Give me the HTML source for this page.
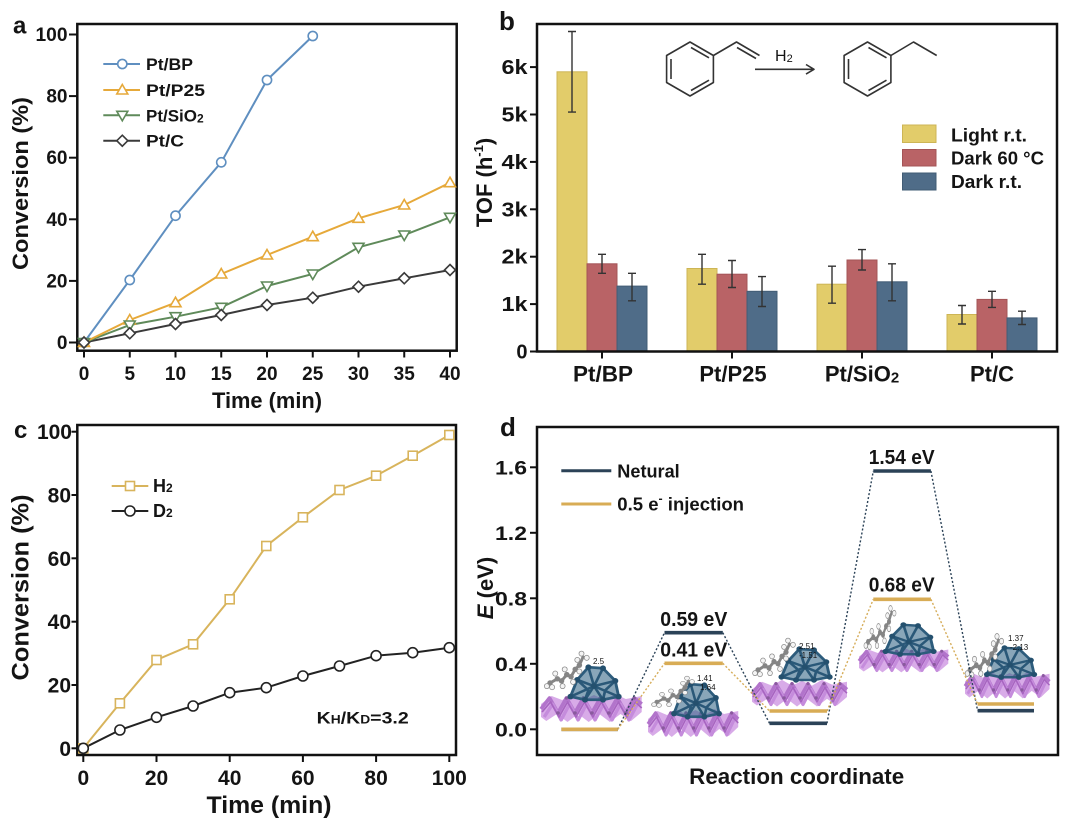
<!DOCTYPE html>
<html><head><meta charset="utf-8">
<style>
body{margin:0;background:#fff}
svg{display:block}
text{font-family:"Liberation Sans",Arial,sans-serif;font-weight:bold;fill:#141414}
</style></head>
<body>
<svg width="1080" height="823" viewBox="0 0 1080 823" xmlns="http://www.w3.org/2000/svg">
<rect width="1080" height="823" fill="#fff"/>
<defs>
  <g id="slab">
    <polygon points="0,12 10,4 20,8 30,2 40,8 50,3 60,8 70,2 80,7 95,4 95,20 85,29 75,22 65,30 55,22 45,30 35,22 25,30 15,22 5,29 0,25" fill="#d4a2e6" fill-opacity="0.9"/>
    <polyline points="0,17 8,6 16,21 24,6 32,21 40,6 48,21 56,6 64,21 72,6 80,21 88,6 95,12" fill="none" stroke="#b274cb" stroke-width="3.6" stroke-linejoin="round"/>
    <polyline points="3,25 11,12 19,28 27,12 35,28 43,12 51,28 59,12 67,28 75,12 83,28 91,12" fill="none" stroke="#c58cdc" stroke-width="3.2" stroke-linejoin="round"/>
    <polyline points="1,20 9,10 17,25 25,10 33,25 41,10 49,25 57,10 65,25 73,10 81,25 89,10 95,16" fill="none" stroke="#a765c0" stroke-width="1.6" stroke-linejoin="round"/>
    <g fill="#8a5a9e"><circle cx="16" cy="21" r="1.8"/><circle cx="32" cy="21" r="1.8"/><circle cx="48" cy="21" r="1.8"/><circle cx="64" cy="21" r="1.8"/><circle cx="80" cy="21" r="1.8"/><circle cx="24" cy="6" r="1.6"/><circle cx="56" cy="6" r="1.6"/><circle cx="88" cy="6" r="1.6"/><circle cx="40" cy="6" r="1.6"/><circle cx="72" cy="6" r="1.6"/></g>
  </g>
  <g id="cl">
    <polygon points="-21,12 -15,-4 -5,-16 8,-15 19,-3 22,12 8,15 -8,15" fill="#3a6a8a" fill-opacity="0.6" stroke="#2d5c7c" stroke-width="2.6" stroke-linejoin="round"/>
    <g stroke="#2a5878" stroke-width="2.4" fill="none">
      <polyline points="-15,-4 0,2 8,-15"/>
      <polyline points="-5,-16 0,2 19,-3"/>
      <polyline points="-21,12 0,2 22,12"/>
      <polyline points="-8,15 0,2 8,15"/>
      <polyline points="-15,-4 -5,6 -8,15"/>
      <polyline points="19,-3 10,6 8,15"/>
    </g>
    <g fill="#24506e"><circle cx="-21" cy="12" r="2.7"/><circle cx="-15" cy="-4" r="2.7"/><circle cx="-5" cy="-16" r="2.7"/><circle cx="8" cy="-15" r="2.7"/><circle cx="19" cy="-3" r="2.7"/><circle cx="22" cy="12" r="2.7"/><circle cx="0" cy="2" r="2.7"/><circle cx="-8" cy="15" r="2.7"/><circle cx="8" cy="15" r="2.7"/></g>
  </g>
  <g id="mol">
    <polyline points="0,0 7,-4 11,-2 16,-8 20,-6 24,-13 28,-17 32,-26" fill="none" stroke="#858585" stroke-width="2.8"/>
    <g fill="#858585"><circle cx="0" cy="0" r="2.6"/><circle cx="7" cy="-4" r="2.6"/><circle cx="11" cy="-2" r="2.6"/><circle cx="16" cy="-8" r="2.6"/><circle cx="20" cy="-6" r="2.6"/><circle cx="24" cy="-13" r="2.6"/><circle cx="28" cy="-17" r="2.6"/></g>
    <g fill="#f4f4f4" stroke="#8a8a8a" stroke-width="0.7"><circle cx="-3" cy="3" r="2.4"/><circle cx="2" cy="4" r="2.4"/><circle cx="5" cy="-9" r="2.4"/><circle cx="12" cy="3" r="2.4"/><circle cx="14" cy="-13" r="2.4"/><circle cx="22" cy="-1" r="2.4"/><circle cx="28" cy="-11" r="2.4"/><circle cx="30" cy="-28" r="2.4"/><circle cx="35" cy="-24" r="2.4"/><circle cx="26" cy="-22" r="2.4"/></g>
  </g>
</defs>

<!-- ================= PANEL A ================= -->
<text x="13" y="33.5" font-size="24">a</text>
<rect x="77.3" y="24" width="379.4" height="326.7" fill="none" stroke="#111" stroke-width="2.5"/>
<g stroke="#111" stroke-width="2">
  <line x1="69" y1="342.5" x2="77.3" y2="342.5"/><line x1="69" y1="280.9" x2="77.3" y2="280.9"/>
  <line x1="69" y1="219.3" x2="77.3" y2="219.3"/><line x1="69" y1="157.7" x2="77.3" y2="157.7"/>
  <line x1="69" y1="96.1" x2="77.3" y2="96.1"/><line x1="69" y1="34.5" x2="77.3" y2="34.5"/>
  <line x1="84" y1="350.7" x2="84" y2="357.5"/><line x1="129.75" y1="350.7" x2="129.75" y2="357.5"/>
  <line x1="175.5" y1="350.7" x2="175.5" y2="357.5"/><line x1="221.25" y1="350.7" x2="221.25" y2="357.5"/>
  <line x1="267" y1="350.7" x2="267" y2="357.5"/><line x1="312.75" y1="350.7" x2="312.75" y2="357.5"/>
  <line x1="358.5" y1="350.7" x2="358.5" y2="357.5"/><line x1="404.25" y1="350.7" x2="404.25" y2="357.5"/>
  <line x1="450" y1="350.7" x2="450" y2="357.5"/>
</g>
<g font-size="19" text-anchor="end">
  <text x="67.5" y="349">0</text><text x="67.5" y="287.4">20</text><text x="67.5" y="225.8">40</text>
  <text x="67.5" y="164.2">60</text><text x="67.5" y="102.6">80</text><text x="67.5" y="41" textLength="32" lengthAdjust="spacingAndGlyphs">100</text>
</g>
<g font-size="19" text-anchor="middle">
  <text x="84" y="380">0</text><text x="129.75" y="380">5</text><text x="175.5" y="380">10</text>
  <text x="221.25" y="380">15</text><text x="267" y="380">20</text><text x="312.75" y="380">25</text>
  <text x="358.5" y="380">30</text><text x="404.25" y="380">35</text><text x="450" y="380">40</text>
</g>
<text x="267" y="408" font-size="22" text-anchor="middle" textLength="110" lengthAdjust="spacingAndGlyphs">Time (min)</text>
<text transform="translate(28,183.5) rotate(-90)" font-size="22" text-anchor="middle" textLength="173" lengthAdjust="spacingAndGlyphs">Conversion (%)</text>

<g fill="none" stroke-width="2">
  <polyline stroke="#3a3a3a" points="84,342.5 129.75,333.3 175.5,324 221.25,315 267,305 312.75,297.7 358.5,286.7 404.25,278.3 450,270"/>
  <polyline stroke="#5f8a5a" points="84,342.5 129.75,325 175.5,316.7 221.25,307.3 267,286 312.75,274 358.5,247.3 404.25,235 450,217.3"/>
  <polyline stroke="#e6a93a" points="84,342.5 129.75,320 175.5,302.7 221.25,274 267,255 312.75,236.7 358.5,218.3 404.25,205 450,182.7"/>
  <polyline stroke="#5f8fc0" points="84,342.5 129.75,280 175.5,215.7 221.25,162.3 267,80 312.75,36"/>
</g>
<g fill="#fff" stroke="#5f8fc0" stroke-width="1.6">
  <circle cx="84" cy="342.5" r="4.6"/><circle cx="129.75" cy="280" r="4.6"/><circle cx="175.5" cy="215.7" r="4.6"/>
  <circle cx="221.25" cy="162.3" r="4.6"/><circle cx="267" cy="80" r="4.6"/><circle cx="312.75" cy="36" r="4.6"/>
</g>
<g fill="#fff" stroke="#e6a93a" stroke-width="1.6">
  <polygon points="84,337 89.5,346.5 78.5,346.5"/><polygon points="129.75,314.5 135.25,324 124.25,324"/>
  <polygon points="175.5,297.2 181,306.7 170,306.7"/><polygon points="221.25,268.5 226.75,278 215.75,278"/>
  <polygon points="267,249.5 272.5,259 261.5,259"/><polygon points="312.75,231.2 318.25,240.7 307.25,240.7"/>
  <polygon points="358.5,212.8 364,222.3 353,222.3"/><polygon points="404.25,199.5 409.75,209 398.75,209"/>
  <polygon points="450,177.2 455.5,186.7 444.5,186.7"/>
</g>
<g fill="#fff" stroke="#5f8a5a" stroke-width="1.6">
  <polygon points="78.5,338.5 89.5,338.5 84,348"/><polygon points="124.25,321 135.25,321 129.75,330.5"/>
  <polygon points="170,312.7 181,312.7 175.5,322.2"/><polygon points="215.75,303.3 226.75,303.3 221.25,312.8"/>
  <polygon points="261.5,282 272.5,282 267,291.5"/><polygon points="307.25,270 318.25,270 312.75,279.5"/>
  <polygon points="353,243.3 364,243.3 358.5,252.8"/><polygon points="398.75,231 409.75,231 404.25,240.5"/>
  <polygon points="444.5,213.3 455.5,213.3 450,222.8"/>
</g>
<g fill="#fff" stroke="#3a3a3a" stroke-width="1.6">
  <polygon points="84,337 89.5,342.5 84,348 78.5,342.5"/><polygon points="129.75,327.8 135.25,333.3 129.75,338.8 124.25,333.3"/>
  <polygon points="175.5,318.5 181,324 175.5,329.5 170,324"/><polygon points="221.25,309.5 226.75,315 221.25,320.5 215.75,315"/>
  <polygon points="267,299.5 272.5,305 267,310.5 261.5,305"/><polygon points="312.75,292.2 318.25,297.7 312.75,303.2 307.25,297.7"/>
  <polygon points="358.5,281.2 364,286.7 358.5,292.2 353,286.7"/><polygon points="404.25,272.8 409.75,278.3 404.25,283.8 398.75,278.3"/>
  <polygon points="450,264.5 455.5,270 450,275.5 444.5,270"/>
</g>
<!-- legend a -->
<g stroke-width="2">
  <line x1="103.3" y1="64" x2="140" y2="64" stroke="#5f8fc0"/>
  <line x1="103.3" y1="90" x2="140" y2="90" stroke="#e6a93a"/>
  <line x1="103.3" y1="115.3" x2="140" y2="115.3" stroke="#5f8a5a"/>
  <line x1="103.3" y1="140.7" x2="140" y2="140.7" stroke="#3a3a3a"/>
</g>
<circle cx="122.3" cy="64" r="4.6" fill="#fff" stroke="#5f8fc0" stroke-width="1.6"/>
<polygon points="122.3,84.5 127.8,94 116.8,94" fill="#fff" stroke="#e6a93a" stroke-width="1.6"/>
<polygon points="116.8,111.3 127.8,111.3 122.3,120.8" fill="#fff" stroke="#5f8a5a" stroke-width="1.6"/>
<polygon points="122.3,135.2 127.8,140.7 122.3,146.2 116.8,140.7" fill="#fff" stroke="#3a3a3a" stroke-width="1.6"/>
<g font-size="17">
  <text x="146" y="70" textLength="47" lengthAdjust="spacingAndGlyphs">Pt/BP</text>
  <text x="146" y="96" textLength="59" lengthAdjust="spacingAndGlyphs">Pt/P25</text>
  <text x="146" y="121.3">Pt/SiO<tspan font-size="12" dy="1">2</tspan></text>
  <text x="146" y="146.7" textLength="38" lengthAdjust="spacingAndGlyphs">Pt/C</text>
</g>

<!-- ================= PANEL B ================= -->
<text x="499" y="30" font-size="26">b</text>
<g stroke-width="1">
  <rect x="557" y="71.8" width="30" height="279.7" fill="#e2cc6a" stroke="#cdb555"/>
  <rect x="587" y="263.8" width="30" height="87.7" fill="#b96366" stroke="#a45457"/>
  <rect x="617" y="286.1" width="30" height="65.4" fill="#4f6c88" stroke="#425c75"/>
  <rect x="687" y="268.5" width="30" height="83" fill="#e2cc6a" stroke="#cdb555"/>
  <rect x="717" y="274.2" width="30" height="77.3" fill="#b96366" stroke="#a45457"/>
  <rect x="747" y="291.3" width="30" height="60.2" fill="#4f6c88" stroke="#425c75"/>
  <rect x="817" y="284.2" width="30" height="67.3" fill="#e2cc6a" stroke="#cdb555"/>
  <rect x="847" y="260" width="30" height="91.5" fill="#b96366" stroke="#a45457"/>
  <rect x="877" y="281.8" width="30" height="69.7" fill="#4f6c88" stroke="#425c75"/>
  <rect x="947" y="314.5" width="30" height="37" fill="#e2cc6a" stroke="#cdb555"/>
  <rect x="977" y="299.4" width="30" height="52.1" fill="#b96366" stroke="#a45457"/>
  <rect x="1007" y="317.9" width="30" height="33.6" fill="#4f6c88" stroke="#425c75"/>
</g>
<g stroke="#333" stroke-width="1.4" fill="none">
  <path d="M572,31.5V112.1M568,31.5H576M568,112.1H576"/>
  <path d="M602,254.3V273.3M598,254.3H606M598,273.3H606"/>
  <path d="M632,273.3V300.8M628,273.3H636M628,300.8H636"/>
  <path d="M702,254.3V284.2M698,254.3H706M698,284.2H706"/>
  <path d="M732,260.5V287.5M728,260.5H736M728,287.5H736"/>
  <path d="M762,276.6V306.5M758,276.6H766M758,306.5H766"/>
  <path d="M832,266.2V303.2M828,266.2H836M828,303.2H836"/>
  <path d="M862,249.6V270M858,249.6H866M858,270H866"/>
  <path d="M892,263.8V300.8M888,263.8H896M888,300.8H896"/>
  <path d="M962,305.5V324M958,305.5H966M958,324H966"/>
  <path d="M992,291.3V307.4M988,291.3H996M988,307.4H996"/>
  <path d="M1022,311.2V324.5M1018,311.2H1026M1018,324.5H1026"/>
</g>
<rect x="537" y="24" width="520" height="327.5" fill="none" stroke="#111" stroke-width="2.5"/>
<g stroke="#111" stroke-width="2">
  <line x1="530" y1="351.5" x2="537" y2="351.5"/><line x1="530" y1="304.1" x2="537" y2="304.1"/>
  <line x1="530" y1="256.7" x2="537" y2="256.7"/><line x1="530" y1="209.3" x2="537" y2="209.3"/>
  <line x1="530" y1="161.9" x2="537" y2="161.9"/><line x1="530" y1="114.5" x2="537" y2="114.5"/>
  <line x1="530" y1="67.1" x2="537" y2="67.1"/>
  <line x1="602" y1="351.5" x2="602" y2="358.5"/><line x1="732" y1="351.5" x2="732" y2="358.5"/>
  <line x1="862" y1="351.5" x2="862" y2="358.5"/><line x1="992" y1="351.5" x2="992" y2="358.5"/>
</g>
<g font-size="20" text-anchor="end">
  <text x="527.5" y="358.5">0</text>
  <text x="527.5" y="311.1" textLength="26" lengthAdjust="spacingAndGlyphs">1k</text>
  <text x="527.5" y="263.7" textLength="26" lengthAdjust="spacingAndGlyphs">2k</text>
  <text x="527.5" y="216.3" textLength="26" lengthAdjust="spacingAndGlyphs">3k</text>
  <text x="527.5" y="168.9" textLength="26" lengthAdjust="spacingAndGlyphs">4k</text>
  <text x="527.5" y="121.5" textLength="26" lengthAdjust="spacingAndGlyphs">5k</text>
  <text x="527.5" y="74.1" textLength="26" lengthAdjust="spacingAndGlyphs">6k</text>
</g>
<g font-size="22" text-anchor="middle">
  <text x="603" y="381.7" textLength="60" lengthAdjust="spacingAndGlyphs">Pt/BP</text>
  <text x="733" y="381.7">Pt/P25</text>
  <text x="862" y="381.7">Pt/SiO<tspan font-size="15" dy="1">2</tspan></text>
  <text x="992" y="381.7">Pt/C</text>
</g>
<text transform="translate(492,182.5) rotate(-90)" font-size="22" text-anchor="middle">TOF (h<tspan font-size="13" dy="-9">-1</tspan><tspan dy="9">)</tspan></text>
<rect x="902.5" y="125" width="33.5" height="17.5" fill="#e2cc6a" stroke="#cdb555"/>
<rect x="902.5" y="149.5" width="33.5" height="16.5" fill="#b96366" stroke="#a45457"/>
<rect x="902.5" y="173" width="33.5" height="17" fill="#4f6c88" stroke="#425c75"/>
<g font-size="18">
  <text x="951" y="141.5" textLength="76" lengthAdjust="spacingAndGlyphs">Light r.t.</text>
  <text x="951" y="164.5" textLength="93" lengthAdjust="spacingAndGlyphs">Dark 60 °C</text>
  <text x="951" y="188" textLength="71" lengthAdjust="spacingAndGlyphs">Dark r.t.</text>
</g>
<g stroke="#333" stroke-width="1.6" fill="none" stroke-linejoin="round">
  <polygon points="690,42 713.4,55.5 713.4,82.5 690,96 666.6,82.5 666.6,55.5"/>
  <line x1="691" y1="47.5" x2="709" y2="57.8"/>
  <line x1="709" y1="80.2" x2="691" y2="90.5"/>
  <line x1="671" y1="59" x2="671" y2="79"/>
  <polyline points="713.4,55.5 736.5,42 759.5,55.5"/>
  <line x1="737" y1="47.5" x2="756" y2="58.5"/>
  <line x1="755" y1="69.3" x2="814" y2="69.3"/>
  <polyline points="806,64.5 814,69.3 806,74.1"/>
  <polygon points="867.5,42 890.9,55.5 890.9,82.5 867.5,96 844.1,82.5 844.1,55.5"/>
  <line x1="868.5" y1="47.5" x2="886.5" y2="57.8"/>
  <line x1="886.5" y1="80.2" x2="868.5" y2="90.5"/>
  <line x1="848.5" y1="59" x2="848.5" y2="79"/>
  <polyline points="890.9,55.5 913.5,42 936.7,55.5"/>
</g>
<text x="775" y="61" font-size="16" style="font-weight:normal">H<tspan font-size="11" dy="1">2</tspan></text>

<!-- ================= PANEL C ================= -->
<text x="14" y="438" font-size="24">c</text>
<rect x="77.3" y="425" width="378.7" height="330" fill="none" stroke="#111" stroke-width="2.5"/>
<g stroke="#111" stroke-width="2">
  <line x1="71.5" y1="748.3" x2="77.3" y2="748.3"/><line x1="71.5" y1="685" x2="77.3" y2="685"/>
  <line x1="71.5" y1="621.7" x2="77.3" y2="621.7"/><line x1="71.5" y1="558.3" x2="77.3" y2="558.3"/>
  <line x1="71.5" y1="495" x2="77.3" y2="495"/><line x1="71.5" y1="431.7" x2="77.3" y2="431.7"/>
  <line x1="83.3" y1="755" x2="83.3" y2="762"/><line x1="156.5" y1="755" x2="156.5" y2="762"/>
  <line x1="229.7" y1="755" x2="229.7" y2="762"/><line x1="302.9" y1="755" x2="302.9" y2="762"/>
  <line x1="376.1" y1="755" x2="376.1" y2="762"/><line x1="449.3" y1="755" x2="449.3" y2="762"/>
</g>
<g font-size="21" text-anchor="end">
  <text x="71" y="755.8">0</text><text x="71" y="692.5">20</text><text x="71" y="629.2">40</text>
  <text x="71" y="565.8">60</text><text x="71" y="502.5">80</text><text x="72" y="439.2">100</text>
</g>
<g font-size="21" text-anchor="middle">
  <text x="83.3" y="785">0</text><text x="156.5" y="785">20</text><text x="229.7" y="785">40</text>
  <text x="302.9" y="785">60</text><text x="376.1" y="785">80</text><text x="449.3" y="785">100</text>
</g>
<text x="269" y="813" font-size="24" text-anchor="middle" textLength="125" lengthAdjust="spacingAndGlyphs">Time (min)</text>
<text transform="translate(28.5,587.5) rotate(-90)" font-size="24" text-anchor="middle" textLength="186" lengthAdjust="spacingAndGlyphs">Conversion (%)</text>
<g fill="none" stroke-width="2">
  <polyline stroke="#222" points="83.3,748.3 119.9,730 156.5,717.3 193.1,706 229.7,692.7 266.3,687.7 302.9,676 339.5,666 376.1,655.7 412.7,652.7 449.3,647.7"/>
  <polyline stroke="#d8b45c" points="83.3,748.3 119.9,703.3 156.5,660 193.1,644.3 229.7,599.3 266.3,546 302.9,517.3 339.5,490 376.1,475.7 412.7,455.7 449.3,435"/>
</g>
<g fill="#fff" stroke="#d8b45c" stroke-width="1.6">
  <rect x="78.8" y="743.8" width="9" height="9"/><rect x="115.4" y="698.8" width="9" height="9"/>
  <rect x="152" y="655.5" width="9" height="9"/><rect x="188.6" y="639.8" width="9" height="9"/>
  <rect x="225.2" y="594.8" width="9" height="9"/><rect x="261.8" y="541.5" width="9" height="9"/>
  <rect x="298.4" y="512.8" width="9" height="9"/><rect x="335" y="485.5" width="9" height="9"/>
  <rect x="371.6" y="471.2" width="9" height="9"/><rect x="408.2" y="451.2" width="9" height="9"/>
  <rect x="444.8" y="430.5" width="9" height="9"/>
</g>
<g fill="#fff" stroke="#222" stroke-width="1.6">
  <circle cx="83.3" cy="748.3" r="5"/><circle cx="119.9" cy="730" r="5"/><circle cx="156.5" cy="717.3" r="5"/>
  <circle cx="193.1" cy="706" r="5"/><circle cx="229.7" cy="692.7" r="5"/><circle cx="266.3" cy="687.7" r="5"/>
  <circle cx="302.9" cy="676" r="5"/><circle cx="339.5" cy="666" r="5"/><circle cx="376.1" cy="655.7" r="5"/>
  <circle cx="412.7" cy="652.7" r="5"/><circle cx="449.3" cy="647.7" r="5"/>
</g>
<line x1="111.7" y1="486" x2="148.3" y2="486" stroke="#d8b45c" stroke-width="2"/>
<rect x="125.5" y="481.5" width="9" height="9" fill="#fff" stroke="#d8b45c" stroke-width="1.6"/>
<line x1="111.7" y1="511" x2="148.3" y2="511" stroke="#222" stroke-width="2"/>
<circle cx="130" cy="511" r="5" fill="#fff" stroke="#222" stroke-width="1.6"/>
<g font-size="18">
  <text x="153" y="492">H<tspan font-size="12">2</tspan></text>
  <text x="153" y="517">D<tspan font-size="12">2</tspan></text>
</g>
<text x="316.7" y="723.3" font-size="17" textLength="92" lengthAdjust="spacingAndGlyphs">K<tspan font-size="12">H</tspan>/K<tspan font-size="12">D</tspan>=3.2</text>

<!-- ================= PANEL D ================= -->
<text x="500" y="436" font-size="26">d</text>
<use href="#slab" transform="translate(541,692) scale(1.06,1)"/>
<use href="#slab" transform="translate(648,707) scale(0.95,1)"/>
<use href="#slab" transform="translate(752,678) scale(1,0.95)"/>
<use href="#slab" transform="translate(859,646) scale(0.94,0.88)"/>
<use href="#slab" transform="translate(965,670) scale(0.89,0.95)"/>
<use href="#cl" transform="translate(594,684) scale(1.12,1.05)"/>
<use href="#cl" transform="translate(696,701) scale(1.05,1.05)"/>
<use href="#cl" transform="translate(805,665) scale(1.12,1)"/>
<use href="#cl" transform="translate(909,640) scale(1.12,0.95)"/>
<use href="#cl" transform="translate(1010,663) scale(1.1,0.95)"/>
<use href="#mol" transform="translate(550,683) scale(1.05)"/>
<use href="#mol" transform="translate(657,702) scale(1,0.85)"/>
<use href="#mol" transform="translate(758,670) scale(1,1.05)"/>
<use href="#mol" transform="translate(868,642) scale(0.75,1.2)"/>
<use href="#mol" transform="translate(970,670) scale(0.9,1.2)"/>
<g font-size="8">
  <text x="593" y="664" style="font-weight:normal">2.5</text>
  <text x="697" y="681" style="font-weight:normal">1.41</text>
  <text x="700" y="690" style="font-weight:normal">1.64</text>
  <text x="799" y="649" style="font-weight:normal">2.51</text>
  <text x="799" y="658" style="font-weight:normal">-1.51</text>
  <text x="1008" y="641" style="font-weight:normal">1.37</text>
  <text x="1010" y="650" style="font-weight:normal">-2.13</text>
</g>
<g stroke="#2b4257" stroke-width="1.4" stroke-dasharray="2 2" fill="none">
  <line x1="617.8" y1="729.3" x2="664.5" y2="632.7"/>
  <line x1="722.8" y1="632.7" x2="769.5" y2="723.3"/>
  <line x1="827" y1="723.3" x2="873.3" y2="471"/>
  <line x1="930.9" y1="471" x2="977.6" y2="710.7"/>
</g>
<g stroke="#d6ad5a" stroke-width="1.4" stroke-dasharray="2 2" fill="none">
  <line x1="617.8" y1="729.3" x2="664.5" y2="663.3"/>
  <line x1="722.8" y1="663.3" x2="769.5" y2="711"/>
  <line x1="827" y1="711" x2="873.3" y2="599.3"/>
  <line x1="930.9" y1="599.3" x2="977.6" y2="704"/>
</g>
<g stroke="#2b4257" stroke-width="3.6">
  <line x1="561.4" y1="729.3" x2="617.8" y2="729.3"/>
  <line x1="664.5" y1="632.7" x2="722.8" y2="632.7"/>
  <line x1="769.5" y1="723.3" x2="827" y2="723.3"/>
  <line x1="873.3" y1="471" x2="930.9" y2="471"/>
  <line x1="977.6" y1="710.7" x2="1034" y2="710.7"/>
</g>
<g stroke="#d8ac55" stroke-width="3.6">
  <line x1="561.4" y1="729.3" x2="617.8" y2="729.3"/>
  <line x1="664.5" y1="663.3" x2="722.8" y2="663.3"/>
  <line x1="769.5" y1="711" x2="827" y2="711"/>
  <line x1="873.3" y1="599.3" x2="930.9" y2="599.3"/>
  <line x1="977.6" y1="704" x2="1034" y2="704"/>
</g>
<g font-size="20" text-anchor="middle">
  <text x="901.7" y="464" textLength="66" lengthAdjust="spacingAndGlyphs">1.54 eV</text>
  <text x="901.7" y="591.7" textLength="66" lengthAdjust="spacingAndGlyphs">0.68 eV</text>
  <text x="693.8" y="626" textLength="67" lengthAdjust="spacingAndGlyphs">0.59 eV</text>
  <text x="693.8" y="656.5" textLength="67" lengthAdjust="spacingAndGlyphs">0.41 eV</text>
</g>
<rect x="537" y="427" width="521" height="328" fill="none" stroke="#111" stroke-width="2.5"/>
<g stroke="#111" stroke-width="2">
  <line x1="530" y1="729.3" x2="537" y2="729.3"/><line x1="530" y1="663.8" x2="537" y2="663.8"/>
  <line x1="530" y1="598.3" x2="537" y2="598.3"/><line x1="530" y1="532.8" x2="537" y2="532.8"/>
  <line x1="530" y1="467.3" x2="537" y2="467.3"/>
</g>
<g font-size="19" text-anchor="end">
  <text x="527" y="736.3" textLength="32" lengthAdjust="spacingAndGlyphs">0.0</text>
  <text x="527" y="670.8" textLength="32" lengthAdjust="spacingAndGlyphs">0.4</text>
  <text x="527" y="605.3" textLength="32" lengthAdjust="spacingAndGlyphs">0.8</text>
  <text x="527" y="539.8" textLength="32" lengthAdjust="spacingAndGlyphs">1.2</text>
  <text x="527" y="474.3" textLength="32" lengthAdjust="spacingAndGlyphs">1.6</text>
</g>
<text transform="translate(493,588) rotate(-90)" font-size="22" text-anchor="middle"><tspan font-style="italic">E</tspan> (eV)</text>
<text x="796.7" y="784" font-size="22" text-anchor="middle" textLength="215" lengthAdjust="spacingAndGlyphs">Reaction coordinate</text>
<line x1="561.3" y1="470.7" x2="611.3" y2="470.7" stroke="#2b4257" stroke-width="3"/>
<line x1="561.3" y1="504" x2="611.3" y2="504" stroke="#d8ac55" stroke-width="3"/>
<g font-size="18">
  <text x="617.3" y="477.3" textLength="62.4" lengthAdjust="spacingAndGlyphs">Netural</text>
  <text x="617.3" y="510.7" textLength="126.7" lengthAdjust="spacingAndGlyphs">0.5 e<tspan font-size="12" dy="-8">-</tspan><tspan dy="8"> injection</tspan></text>
</g>
</svg>
</body></html>
